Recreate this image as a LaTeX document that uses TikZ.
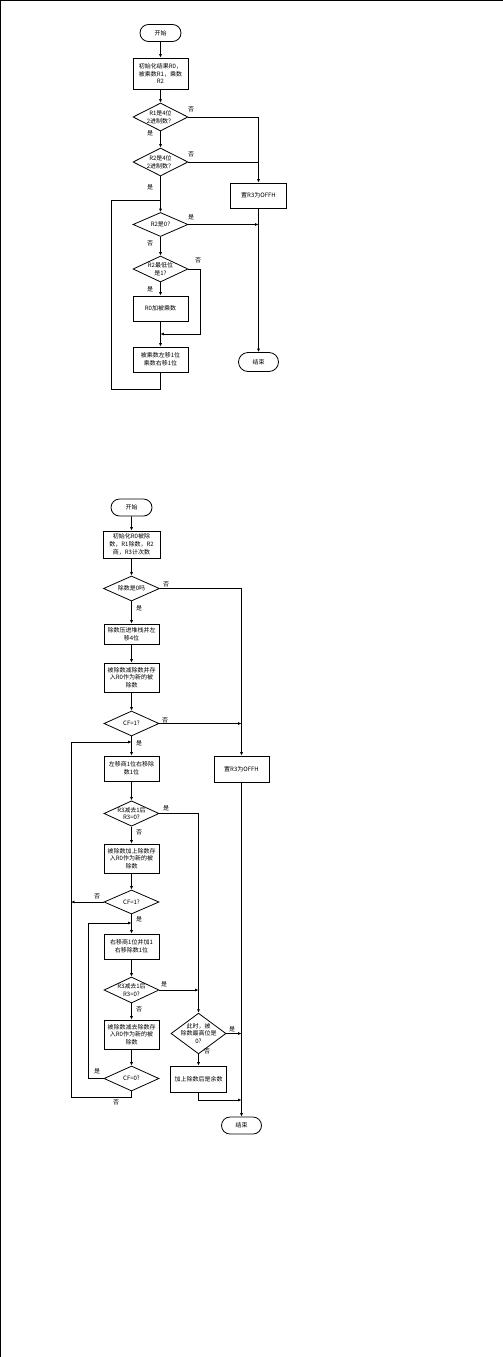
\documentclass[tikz,border=0pt]{standalone}
\usepackage{fontspec}
\setmainfont{Noto Sans CJK SC}
\usetikzlibrary{arrows.meta,positioning,shapes.geometric,shapes.misc,calc}

\begin{document}
\begin{tikzpicture}[
  x=1pt,y=-1pt,
  line width=0.8pt,
  font=\fontsize{6}{7.8}\selectfont,
  term/.style={draw,rounded rectangle,minimum width=43pt,minimum height=17pt,inner sep=1pt},
  proc/.style={draw,rectangle,minimum width=55pt,align=center,inner sep=1pt},
  decide/.style={draw,diamond,minimum width=55pt,minimum height=26pt,inner sep=-4pt,align=center},
  lbl/.style={inner sep=0pt,font=\fontsize{6}{6}\selectfont},
  flow/.style={-{Latex[length=3.4pt,width=3pt]}}
]
  \useasboundingbox (0,0) rectangle (503,1357);
  \draw[line width=1.4pt] (0.7,1357) -- (0.7,0.7) -- (503,0.7);

  % Multiplication chart
  \node[term] (s1) at (160.5,33) {开始};
  \node[proc,minimum height=31pt] (i1) at (160.5,73.5) {初始化结果R0，\\被乘数R1，乘数\\R2};
  \node[decide,minimum height=28pt] (q1) at (160.5,117) {R1是4位\\2进制数？};
  \node[decide,minimum height=28pt] (q2) at (160.5,162) {R2是4位\\2进制数？};
  \node[proc,minimum width=56pt,minimum height=25pt] (e1) at (258.5,195.5) {置R3为OFFH};
  \node[decide,minimum height=24pt] (q3) at (160.5,224.5) {R2是0?};
  \node[decide,minimum height=26pt] (q4) at (160.5,269) {R2最低位\\是1?};
  \node[proc,minimum height=25pt] (a1) at (160.5,308.5) {R0加被乘数};
  \node[proc,minimum height=25pt] (m1) at (160.5,359.5) {被乘数左移1位\\乘数右移1位};
  \node[term,minimum width=42pt,minimum height=19pt] (t1) at (258.5,362) {结束};

  \coordinate (j1) at (160.5,200);
  \coordinate (j2) at (160.5,334);
  \coordinate (c4) at (200,334);
  \coordinate (lp1) at (111,389);

  \draw[flow] (s1) -- (i1);
  \draw[flow] (i1) -- (q1);
  \draw[flow] (q1) -- (q2);
  \draw[flow] (q1.east) -| (e1.north);
  \draw (q2.east) -- (q2.east -| e1.north);
  \draw[flow] (q2) -- (q3);
  \draw[flow] (q3.east) -- (q3.east -| e1.south);
  \draw[flow] (e1) -- (t1);
  \draw[flow] (q3) -- (q4);
  \draw[flow] (q4) -- (a1);
  \draw[flow] (q4.east) -| (c4) -- (j2);
  \draw (a1) -- (j2);
  \draw[flow] (j2) -- (m1);
  \draw (m1.south) |- (lp1) |- (j1);

  \node[lbl] at (191,109) {否};
  \node[lbl] at (150,133) {是};
  \node[lbl] at (191,154) {否};
  \node[lbl] at (150,187) {是};
  \node[lbl] at (191,217) {是};
  \node[lbl] at (150,243) {否};
  \node[lbl] at (198,260) {否};
  \node[lbl] at (150,289) {是};

  % Division chart
  \node[term] (s2) at (131.5,507.5) {开始};
  \node[proc,minimum width=57pt,minimum height=27pt] (i2) at (131.5,544.5) {初始化R0被除\\数，R1除数，R2\\商，R3计次数};
  \node[decide,minimum width=56pt,minimum height=25pt] (p1) at (131.5,588.5) {除数是0吗};
  \node[proc,minimum height=20pt] (b1) at (131.5,634) {除数压进堆栈并左\\移4位};
  \node[proc,minimum height=29pt] (b2) at (131.5,677.5) {被除数减除数并存\\入R0作为新的被\\除数};
  \node[decide,minimum height=25pt] (p2) at (131.5,723.5) {CF=1?};
  \node[proc,minimum height=26pt] (e2) at (241.5,769) {置R3为OFFH};
  \node[proc,minimum height=25pt] (b3) at (131.5,768.5) {左移商1位右移除\\数1位};
  \node[decide,minimum height=25pt] (p3) at (131.5,813.5) {R3减去1后\\R3=0?};
  \node[proc,minimum height=29pt] (b4) at (131.5,858.5) {被除数加上除数存\\入R0作为新的被\\除数};
  \node[decide,minimum height=24pt] (p4) at (131.5,902) {CF=1?};
  \node[proc,minimum height=25pt] (b5) at (131.5,946.5) {右移商1位并加1\\右移除数1位};
  \node[decide,minimum height=26pt] (p5) at (131.5,990) {R3减去1后\\R3=0?};
  \node[proc,minimum height=29pt] (b6) at (131.5,1034.5) {被除数减去除数存\\入R0作为新的被\\除数};
  \node[decide,minimum height=25pt] (p6) at (131.5,1078.5) {CF=0?};
  \node[decide,minimum height=37pt] (p7) at (198.5,1033.5) {此时，被\\除数最高位是\\0?};
  \node[proc,minimum width=56pt,minimum height=26pt] (b7) at (198.5,1079) {加上除数后是余数};
  \node[term,minimum width=42pt,minimum height=17pt] (t2) at (241.5,1125.5) {结束};

  \coordinate (j3) at (131.5,742);
  \coordinate (j4) at (131.5,923);
  \coordinate (o1) at (71,1097);
  \coordinate (o2) at (88,1078.5);
  \coordinate (c7) at (241.5,1100);

  \draw[flow] (s2) -- (i2);
  \draw[flow] (i2) -- (p1);
  \draw[flow] (p1) -- (b1);
  \draw[flow] (b1) -- (b2);
  \draw[flow] (b2) -- (p2);
  \draw[flow] (p1.east) -| (e2.north);
  \draw[flow] (p2.east) -- (p2.east -| e2.north);
  \draw[flow] (p2) -- (b3);
  \draw[flow] (b3) -- (p3);
  \draw[flow] (p3) -- (b4);
  \draw[flow] (b4) -- (p4);
  \draw[flow] (p4) -- (b5);
  \draw[flow] (b5) -- (p5);
  \draw[flow] (p5) -- (b6);
  \draw[flow] (b6) -- (p6);
  \draw[flow] (p3.east) -| (p7.north);
  \draw[flow] (p5.east) -- (p5.east -| p7.north);
  \draw[flow] (p4.west) -- (p4.west -| o1);
  \draw[flow] (p6.south) |- (o1) |- (j3);
  \draw[flow] (p6.west) -- (o2) |- (j4);
  \draw[flow] (p7.east) -- (p7.east -| e2.south);
  \draw[flow] (p7) -- (b7);
  \draw[flow] (b7.south) |- (c7);
  \draw[flow] (e2) -- (t2);

  \node[lbl] at (166,584) {否};
  \node[lbl] at (139,608) {是};
  \node[lbl] at (165,720) {否};
  \node[lbl] at (139,743) {是};
  \node[lbl] at (166,808) {是};
  \node[lbl] at (139,832) {否};
  \node[lbl] at (97,896) {否};
  \node[lbl] at (139,919) {是};
  \node[lbl] at (164,984) {是};
  \node[lbl] at (139,1009) {否};
  \node[lbl] at (97,1071) {是};
  \node[lbl] at (116,1102) {否};
  \node[lbl] at (232,1029) {是};
  \node[lbl] at (207,1051) {否};
\end{tikzpicture}
\end{document}
